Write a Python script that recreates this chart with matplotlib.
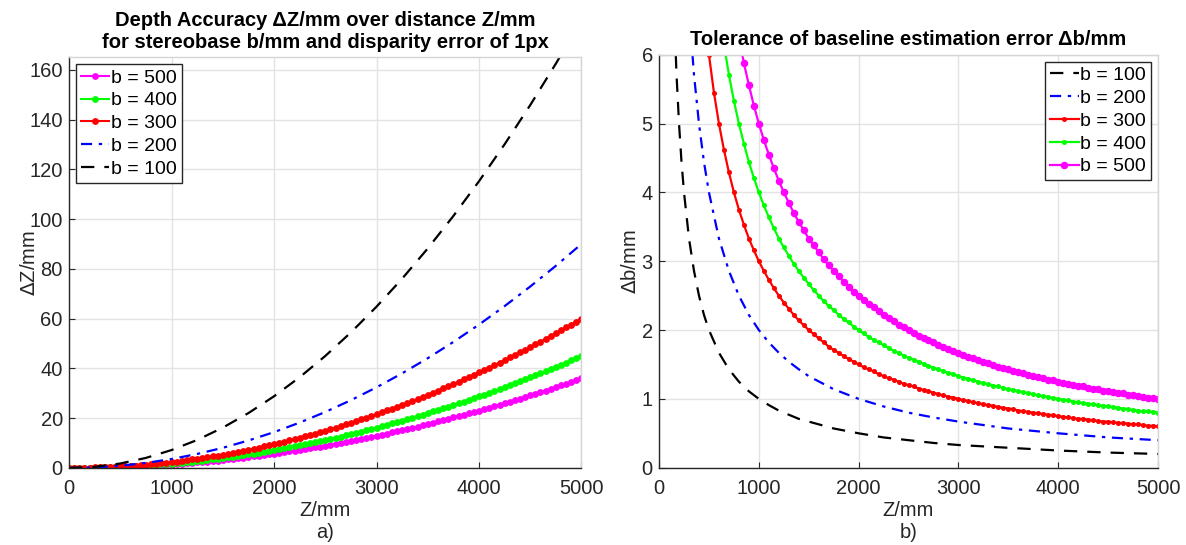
import numpy as np
import matplotlib.pyplot as plt

plt.rcParams['font.family'] = ['Liberation Sans', 'DejaVu Sans']

# sampling grid of distance Z/mm (50 mm steps, as in the original plot)
z_dense = np.arange(0, 5001, 50)
# sparser grids for the un-marked dashed curves
z_left_sparse = [0, 250, 500, 750, 1000, 1250, 1500, 1750, 2000, 2250, 2500,
                 2750, 3000, 3250, 3500, 3750, 4000, 4250, 4500, 4750, 5000]
z_right_sparse = [150, 175, 200, 225, 250, 300, 350, 400, 450, 500, 600, 700,
                  800, 900, 1000, 1100, 1200, 1300, 1400, 1500, 1750, 2000,
                  2250, 2500, 2750, 3000, 3500, 4000, 4500, 5000]

# a) depth accuracy dZ/mm
dz_b100 = [0, 0.45, 1.8, 4.05, 7.2, 11.25, 16.2, 22.05, 28.8, 36.45, 45,
           54.45, 64.8, 76.05, 88.2, 101.25, 115.2, 130.05, 145.8, 162.45, 180]
dz_b200 = [0, 0.23, 0.9, 2.03, 3.6, 5.63, 8.1, 11.03, 14.4, 18.23, 22.5,
           27.23, 32.4, 38.03, 44.1, 50.63, 57.6, 65.03, 72.9, 81.23, 90]
dz_b300 = [0, 0.0, 0.0, 0.1, 0.1, 0.2, 0.2, 0.3, 0.4, 0.5, 0.6, 0.7, 0.9, 1.0,
           1.2, 1.4, 1.5, 1.7, 1.9, 2.2, 2.4, 2.6, 2.9, 3.2, 3.5, 3.8, 4.1, 4.4,
           4.7, 5.0, 5.4, 5.8, 6.1, 6.5, 6.9, 7.4, 7.8, 8.2, 8.7, 9.1, 9.6,
           10.1, 10.6, 11.1, 11.6, 12.2, 12.7, 13.3, 13.8, 14.4, 15.0, 15.6,
           16.2, 16.9, 17.5, 18.2, 18.8, 19.5, 20.2, 20.9, 21.6, 22.3, 23.1,
           23.8, 24.6, 25.4, 26.1, 26.9, 27.7, 28.6, 29.4, 30.2, 31.1, 32.0,
           32.9, 33.8, 34.7, 35.6, 36.5, 37.4, 38.4, 39.4, 40.3, 41.3, 42.3,
           43.4, 44.4, 45.4, 46.5, 47.5, 48.6, 49.7, 50.8, 51.9, 53.0, 54.2,
           55.3, 56.5, 57.6, 58.8, 60.0]
dz_b400 = [0, 0.0, 0.0, 0.0, 0.1, 0.1, 0.2, 0.2, 0.3, 0.4, 0.5, 0.5, 0.6, 0.8,
           0.9, 1.0, 1.2, 1.3, 1.5, 1.6, 1.8, 2.0, 2.2, 2.4, 2.6, 2.8, 3.0, 3.3,
           3.5, 3.8, 4.1, 4.3, 4.6, 4.9, 5.2, 5.5, 5.8, 6.2, 6.5, 6.8, 7.2,
           7.6, 7.9, 8.3, 8.7, 9.1, 9.5, 9.9, 10.4, 10.8, 11.3, 11.7, 12.2,
           12.6, 13.1, 13.6, 14.1, 14.6, 15.1, 15.7, 16.2, 16.7, 17.3, 17.9,
           18.4, 19.0, 19.6, 20.2, 20.8, 21.4, 22.1, 22.7, 23.3, 24.0, 24.6,
           25.3, 26.0, 26.7, 27.4, 28.1, 28.8, 29.5, 30.3, 31.0, 31.8, 32.5,
           33.3, 34.1, 34.8, 35.6, 36.5, 37.3, 38.1, 38.9, 39.8, 40.6, 41.5,
           42.3, 43.2, 44.1, 45.0]
dz_b500 = [0, 0.0, 0.0, 0.0, 0.1, 0.1, 0.1, 0.2, 0.2, 0.3, 0.4, 0.4, 0.5, 0.6,
           0.7, 0.8, 0.9, 1.0, 1.2, 1.3, 1.4, 1.6, 1.7, 1.9, 2.1, 2.3, 2.4, 2.6,
           2.8, 3.0, 3.2, 3.5, 3.7, 3.9, 4.2, 4.4, 4.7, 4.9, 5.2, 5.5, 5.8,
           6.1, 6.4, 6.7, 7.0, 7.3, 7.6, 8.0, 8.3, 8.6, 9.0, 9.4, 9.7, 10.1,
           10.5, 10.9, 11.3, 11.7, 12.1, 12.5, 13.0, 13.4, 13.8, 14.3, 14.7,
           15.2, 15.7, 16.2, 16.6, 17.1, 17.6, 18.1, 18.7, 19.2, 19.7, 20.3,
           20.8, 21.3, 21.9, 22.5, 23.0, 23.6, 24.2, 24.8, 25.4, 26.0, 26.6,
           27.2, 27.9, 28.5, 29.2, 29.8, 30.5, 31.1, 31.8, 32.5, 33.2, 33.9,
           34.6, 35.3, 36.0]

# b) tolerance of baseline estimation error db/mm
db_b100 = [6.67, 5.71, 5.0, 4.44, 4.0, 3.33, 2.86, 2.5, 2.22, 2.0, 1.67, 1.43,
           1.25, 1.11, 1.0, 0.91, 0.83, 0.77, 0.71, 0.67, 0.57, 0.5, 0.44, 0.4,
           0.36, 0.33, 0.29, 0.25, 0.22, 0.2]
db_b200 = [13.33, 11.43, 10.0, 8.89, 8.0, 6.67, 5.71, 5.0, 4.44, 4.0, 3.33,
           2.86, 2.5, 2.22, 2.0, 1.82, 1.67, 1.54, 1.43, 1.33, 1.14, 1.0, 0.89,
           0.8, 0.73, 0.67, 0.57, 0.5, 0.44, 0.4]
db_b300 = [6.00, 5.45, 5.00, 4.62, 4.29, 4.00, 3.75, 3.53, 3.33, 3.16, 3.00,
           2.86, 2.73, 2.61, 2.50, 2.40, 2.31, 2.22, 2.14, 2.07, 2.00, 1.94,
           1.88, 1.82, 1.76, 1.71, 1.67, 1.62, 1.58, 1.54, 1.50, 1.46, 1.43,
           1.40, 1.36, 1.33, 1.30, 1.28, 1.25, 1.22, 1.20, 1.18, 1.15, 1.13,
           1.11, 1.09, 1.07, 1.05, 1.03, 1.02, 1.00, 0.98, 0.97, 0.95, 0.94,
           0.92, 0.91, 0.90, 0.88, 0.87, 0.86, 0.85, 0.83, 0.82, 0.81, 0.80,
           0.79, 0.78, 0.77, 0.76, 0.75, 0.74, 0.73, 0.72, 0.71, 0.71, 0.70,
           0.69, 0.68, 0.67, 0.67, 0.66, 0.65, 0.65, 0.64, 0.63, 0.63, 0.62,
           0.61, 0.61, 0.60]
db_b400 = [6.15, 5.71, 5.33, 5.00, 4.71, 4.44, 4.21, 4.00, 3.81, 3.64, 3.48,
           3.33, 3.20, 3.08, 2.96, 2.86, 2.76, 2.67, 2.58, 2.50, 2.42, 2.35,
           2.29, 2.22, 2.16, 2.11, 2.05, 2.00, 1.95, 1.90, 1.86, 1.82, 1.78,
           1.74, 1.70, 1.67, 1.63, 1.60, 1.57, 1.54, 1.51, 1.48, 1.45, 1.43,
           1.40, 1.38, 1.36, 1.33, 1.31, 1.29, 1.27, 1.25, 1.23, 1.21, 1.19,
           1.18, 1.16, 1.14, 1.13, 1.11, 1.10, 1.08, 1.07, 1.05, 1.04, 1.03,
           1.01, 1.00, 0.99, 0.98, 0.96, 0.95, 0.94, 0.93, 0.92, 0.91, 0.90,
           0.89, 0.88, 0.87, 0.86, 0.85, 0.84, 0.83, 0.82, 0.82, 0.81, 0.80]
db_b500 = [6.25, 5.88, 5.56, 5.26, 5.00, 4.76, 4.55, 4.35, 4.17, 4.00, 3.85,
           3.70, 3.57, 3.45, 3.33, 3.23, 3.13, 3.03, 2.94, 2.86, 2.78, 2.70,
           2.63, 2.56, 2.50, 2.44, 2.38, 2.33, 2.27, 2.22, 2.17, 2.13, 2.08,
           2.04, 2.00, 1.96, 1.92, 1.89, 1.85, 1.82, 1.79, 1.75, 1.72, 1.69,
           1.67, 1.64, 1.61, 1.59, 1.56, 1.54, 1.52, 1.49, 1.47, 1.45, 1.43,
           1.41, 1.39, 1.37, 1.35, 1.33, 1.32, 1.30, 1.28, 1.27, 1.25, 1.23,
           1.22, 1.20, 1.19, 1.18, 1.16, 1.15, 1.14, 1.12, 1.11, 1.10, 1.09,
           1.08, 1.06, 1.05, 1.04, 1.03, 1.02, 1.01, 1.00]

txt = '#262626'
grid_c = '#e3e3e3'
fs = 14.5


def style_axes(ax, xlabel, ylabel, ylim, yticks, ylab_x):
    ax.set_xlim(0, 5000)
    ax.set_ylim(*ylim)
    ax.set_xticks([0, 1000, 2000, 3000, 4000, 5000])
    ax.set_yticks(yticks)
    ax.grid(True, color=grid_c, linewidth=1.0)
    ax.set_axisbelow(True)
    ax.tick_params(direction='in', length=4, width=0.8, colors=txt,
                   labelsize=fs)
    ax.tick_params(axis='x', pad=8)
    ax.tick_params(axis='y', pad=4.5)
    for s in ['left', 'bottom']:
        ax.spines[s].set_color(txt)
        ax.spines[s].set_linewidth(1.0)
    for s in ['top', 'right']:
        ax.spines[s].set_color('#d5d5d5')
        ax.spines[s].set_linewidth(1.0)
    ax.set_xlabel(xlabel, fontsize=fs, color=txt, linespacing=1.2)
    ax.xaxis.set_label_coords(0.5, -0.08)
    ax.set_ylabel(ylabel, fontsize=fs, color=txt)
    ax.yaxis.set_label_coords(ylab_x, 0.5)


def style_legend(leg):
    leg.get_frame().set_edgecolor(txt)
    leg.get_frame().set_linewidth(1.0)


leg_kw = dict(fontsize=14, handlelength=1.45, handletextpad=0.1,
              labelspacing=0.27, borderpad=0.25, borderaxespad=0.35,
              fancybox=False, framealpha=1)

fig = plt.figure(figsize=(11.86, 5.45), dpi=100)
ax1 = fig.add_axes([0.0582, 0.1413, 0.4321, 0.7536])
ax2 = fig.add_axes([0.5557, 0.1418, 0.4207, 0.7578])

# left plot
ax1.plot(z_dense, dz_b500, '-', color='#ff00ff', lw=1.5, marker='o', ms=3.9,
         label='b = 500')
ax1.plot(z_dense, dz_b400, '-', color='#00ff00', lw=1.5, marker='o', ms=3.9,
         label='b = 400')
ax1.plot(z_dense, dz_b300, '-', color='#ff0000', lw=1.5, marker='o', ms=3.9,
         label='b = 300')
ax1.plot(z_left_sparse, dz_b200, '-.', color='#0000ff', lw=1.6, label='b = 200',
         dashes=(5, 3, 1.5, 3))
ax1.plot(z_left_sparse, dz_b100, '--', color='black', lw=1.6, label='b = 100',
         dashes=(6, 4.5))
style_axes(ax1, 'Z/mm\na)', r'$\Delta$Z/mm', (0, 165), range(0, 161, 20), -0.058)
ax1.set_title('Depth Accuracy ΔZ/mm over distance Z/mm\n'
              'for stereobase b/mm and disparity error of 1px',
              fontsize=14.5, fontweight='bold', pad=7, linespacing=1.15)
style_legend(ax1.legend(loc='upper left', **leg_kw))

# right plot
ax2.plot(z_right_sparse, db_b100, '--', color='black', lw=1.6, label='b = 100',
         dashes=(6, 4.5))
ax2.plot(z_right_sparse, db_b200, '-.', color='#0000ff', lw=1.6, label='b = 200',
         dashes=(5, 3, 1.5, 3))
ax2.plot(z_dense[10:], db_b300, '-', color='#ff0000', lw=1.6, marker='o',
         ms=2.6, label='b = 300')
ax2.plot(z_dense[13:], db_b400, '-', color='#00ff00', lw=1.6, marker='o',
         ms=2.6, label='b = 400')
ax2.plot(z_dense[16:], db_b500, '-', color='#ff00ff', lw=1.6, marker='o',
         ms=4.4, label='b = 500')
style_axes(ax2, 'Z/mm\nb)', r'$\Delta$b/mm', (0, 6), range(0, 7), -0.038)
ax2.set_title('Tolerance of baseline estimation error Δb/mm',
              fontsize=14.5, fontweight='bold', pad=7)
style_legend(ax2.legend(loc='upper right', **leg_kw))

fig.savefig('out.png', dpi=100)
